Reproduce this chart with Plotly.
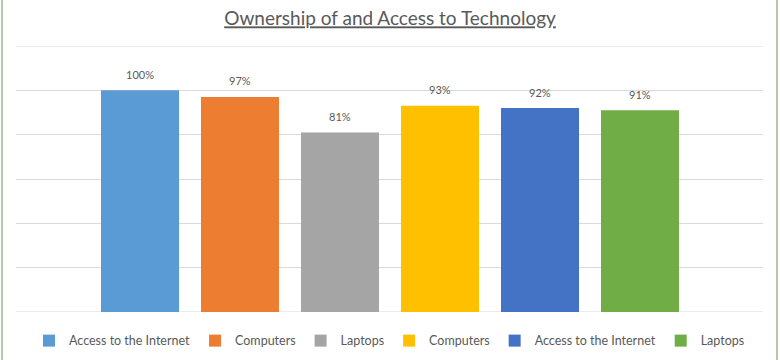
import plotly.graph_objects as go

series_names = ["Access to the Internet", "Computers", "Laptops", "Computers", "Access to the Internet", "Laptops"]
series_values = [100, 97, 81, 93, 92, 91]
series_colors = ["#5B9BD5", "#ED7D31", "#A5A5A5", "#FFC000", "#4472C4", "#70AD47"]

fig = go.Figure()
for i, (name, val, col) in enumerate(zip(series_names, series_values, series_colors)):
    fig.add_trace(go.Bar(
        x=[i], y=[val], name=name, width=0.78,
        marker=dict(color=col, line=dict(width=0)),
        hoverinfo="name+y",
    ))
    fig.add_annotation(x=i, y=val, xref="x", yref="y", text=f"{val}%",
                       showarrow=False, yanchor="middle", yshift=16,
                       font=dict(family="Lato", size=11, color="#595959"))

fig.update_layout(
    width=780, height=360,
    margin=dict(l=16, r=17, t=46, b=48, autoexpand=False),
    paper_bgcolor="white", plot_bgcolor="white",
    barmode="overlay",
    title=dict(text="<u>Ownership of and Access to Technology</u>",
               x=0.5, xanchor="center", y=0.948, yanchor="middle",
               font=dict(family="Lato", size=19, color="#595959")),
    xaxis=dict(range=[-1.24, 6.23], showticklabels=False, showgrid=False,
               zeroline=False, showline=False, fixedrange=True),
    yaxis=dict(range=[0, 120], dtick=20, showticklabels=False, showgrid=True,
               gridcolor="#D9D9D9", gridwidth=1, zeroline=False, showline=False),
    legend=dict(orientation="h", x=0.5, xanchor="center", y=-0.109, yanchor="middle",
                font=dict(family="Lato", size=12.5, color="#595959"),
                itemwidth=30, traceorder="normal"),
    showlegend=True,
)

# top and bottom gridlines (edge lines are clipped by plotly)
for yv in (0, 120):
    fig.add_shape(type="line", xref="paper", yref="y", x0=0, x1=1, y0=yv, y1=yv,
                  line=dict(color="#D9D9D9", width=1), layer="below")

# outer chart border
for xv in (-14/747, 1 + 14/747):
    fig.add_shape(type="line", xref="paper", yref="paper",
                  x0=xv, x1=xv, y0=-48/266, y1=1 + 46/266,
                  line=dict(color="#A3B38C", width=1.5))

fig.write_html("out.html", config={"displayModeBar": False},
               post_script="document.body.style.margin='0';")
